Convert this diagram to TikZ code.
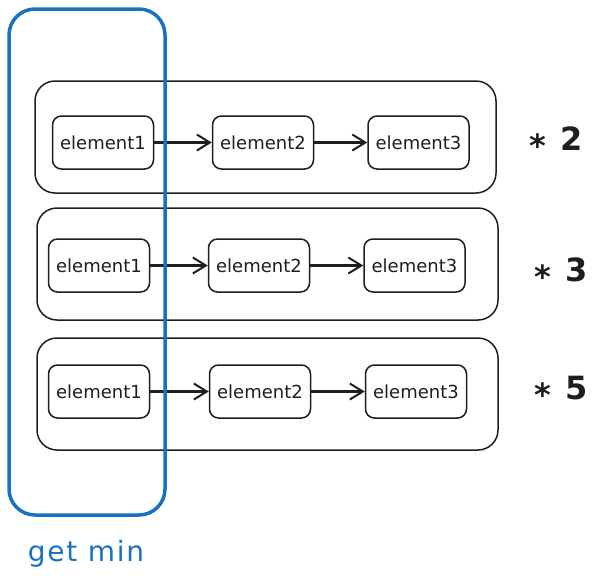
\documentclass[tikz,border=0pt]{standalone}
\usepackage{fontspec}
\setmainfont{DejaVu Sans}
\newfontfamily\wideFont[LetterSpace=6]{DejaVu Sans}
\usetikzlibrary{arrows.meta}
\definecolor{exblue}{HTML}{1971C2}
\definecolor{ink}{HTML}{1E1E1E}
\tikzset{
  elem/.style={draw=ink, line width=1.5pt, rounded corners=9pt, minimum width=101pt, minimum height=53pt, inner sep=0pt, font=\fontsize{18}{21}\selectfont, text=ink},
  rowbox/.style={draw=ink, line width=1.5pt, rounded corners=20pt},
  link/.style={draw=ink, line width=2.2pt, -{Straight Barb[length=13pt, width=16pt, line width=2pt]}},
  mult/.style={font=\bfseries\fontsize{32}{36}\selectfont, text=ink, anchor=center},
  minbox/.style={draw=exblue, line width=3.5pt, rounded corners=26pt},
}
\begin{document}
\begin{tikzpicture}[x=1pt, y=-1pt]
\useasboundingbox (0,0) rectangle (602,584);
% row boxes
\node[rowbox, minimum width=461pt, minimum height=112pt] (r1) at (265.5,137) {};
\node[rowbox, minimum width=461pt, minimum height=112pt] (r2) at (267.5,264) {};
\node[rowbox, minimum width=461pt, minimum height=112pt] (r3) at (267.5,394) {};
% row 1
\node[elem] (a1) at (103,142.5) {element1};
\node[elem] (b1) at (263,142.5) {element2};
\node[elem] (c1) at (418.5,142.5) {element3};
% row 2
\node[elem] (a2) at (99,265.5) {element1};
\node[elem] (b2) at (259,265.5) {element2};
\node[elem] (c2) at (414.5,265.5) {element3};
% row 3
\node[elem] (a3) at (99,391.5) {element1};
\node[elem] (b3) at (260,391.5) {element2};
\node[elem] (c3) at (416,391.5) {element3};
% links
\draw[link] (a1) -- (b1);
\draw[link] (b1) -- (c1);
\draw[link] (a2) -- (b2);
\draw[link] (b2) -- (c2);
\draw[link] (a3) -- (b3);
\draw[link] (b3) -- (c3);
% multipliers
\node[mult] (m1) at (556,142) {\raisebox{-7pt}{*}\hspace{14pt}2};
\node[mult] (m2) at (561,273) {\raisebox{-7pt}{*}\hspace{14pt}3};
\node[mult] (m3) at (561,391) {\raisebox{-7pt}{*}\hspace{14pt}5};
% get min box
\node[minbox, minimum width=156pt, minimum height=506pt] (gm) at (87,262) {};
\node[text=exblue, font=\wideFont\fontsize{28}{32}\selectfont, anchor=center] (gml) at (86,554) {get min};
\end{tikzpicture}
\end{document}
